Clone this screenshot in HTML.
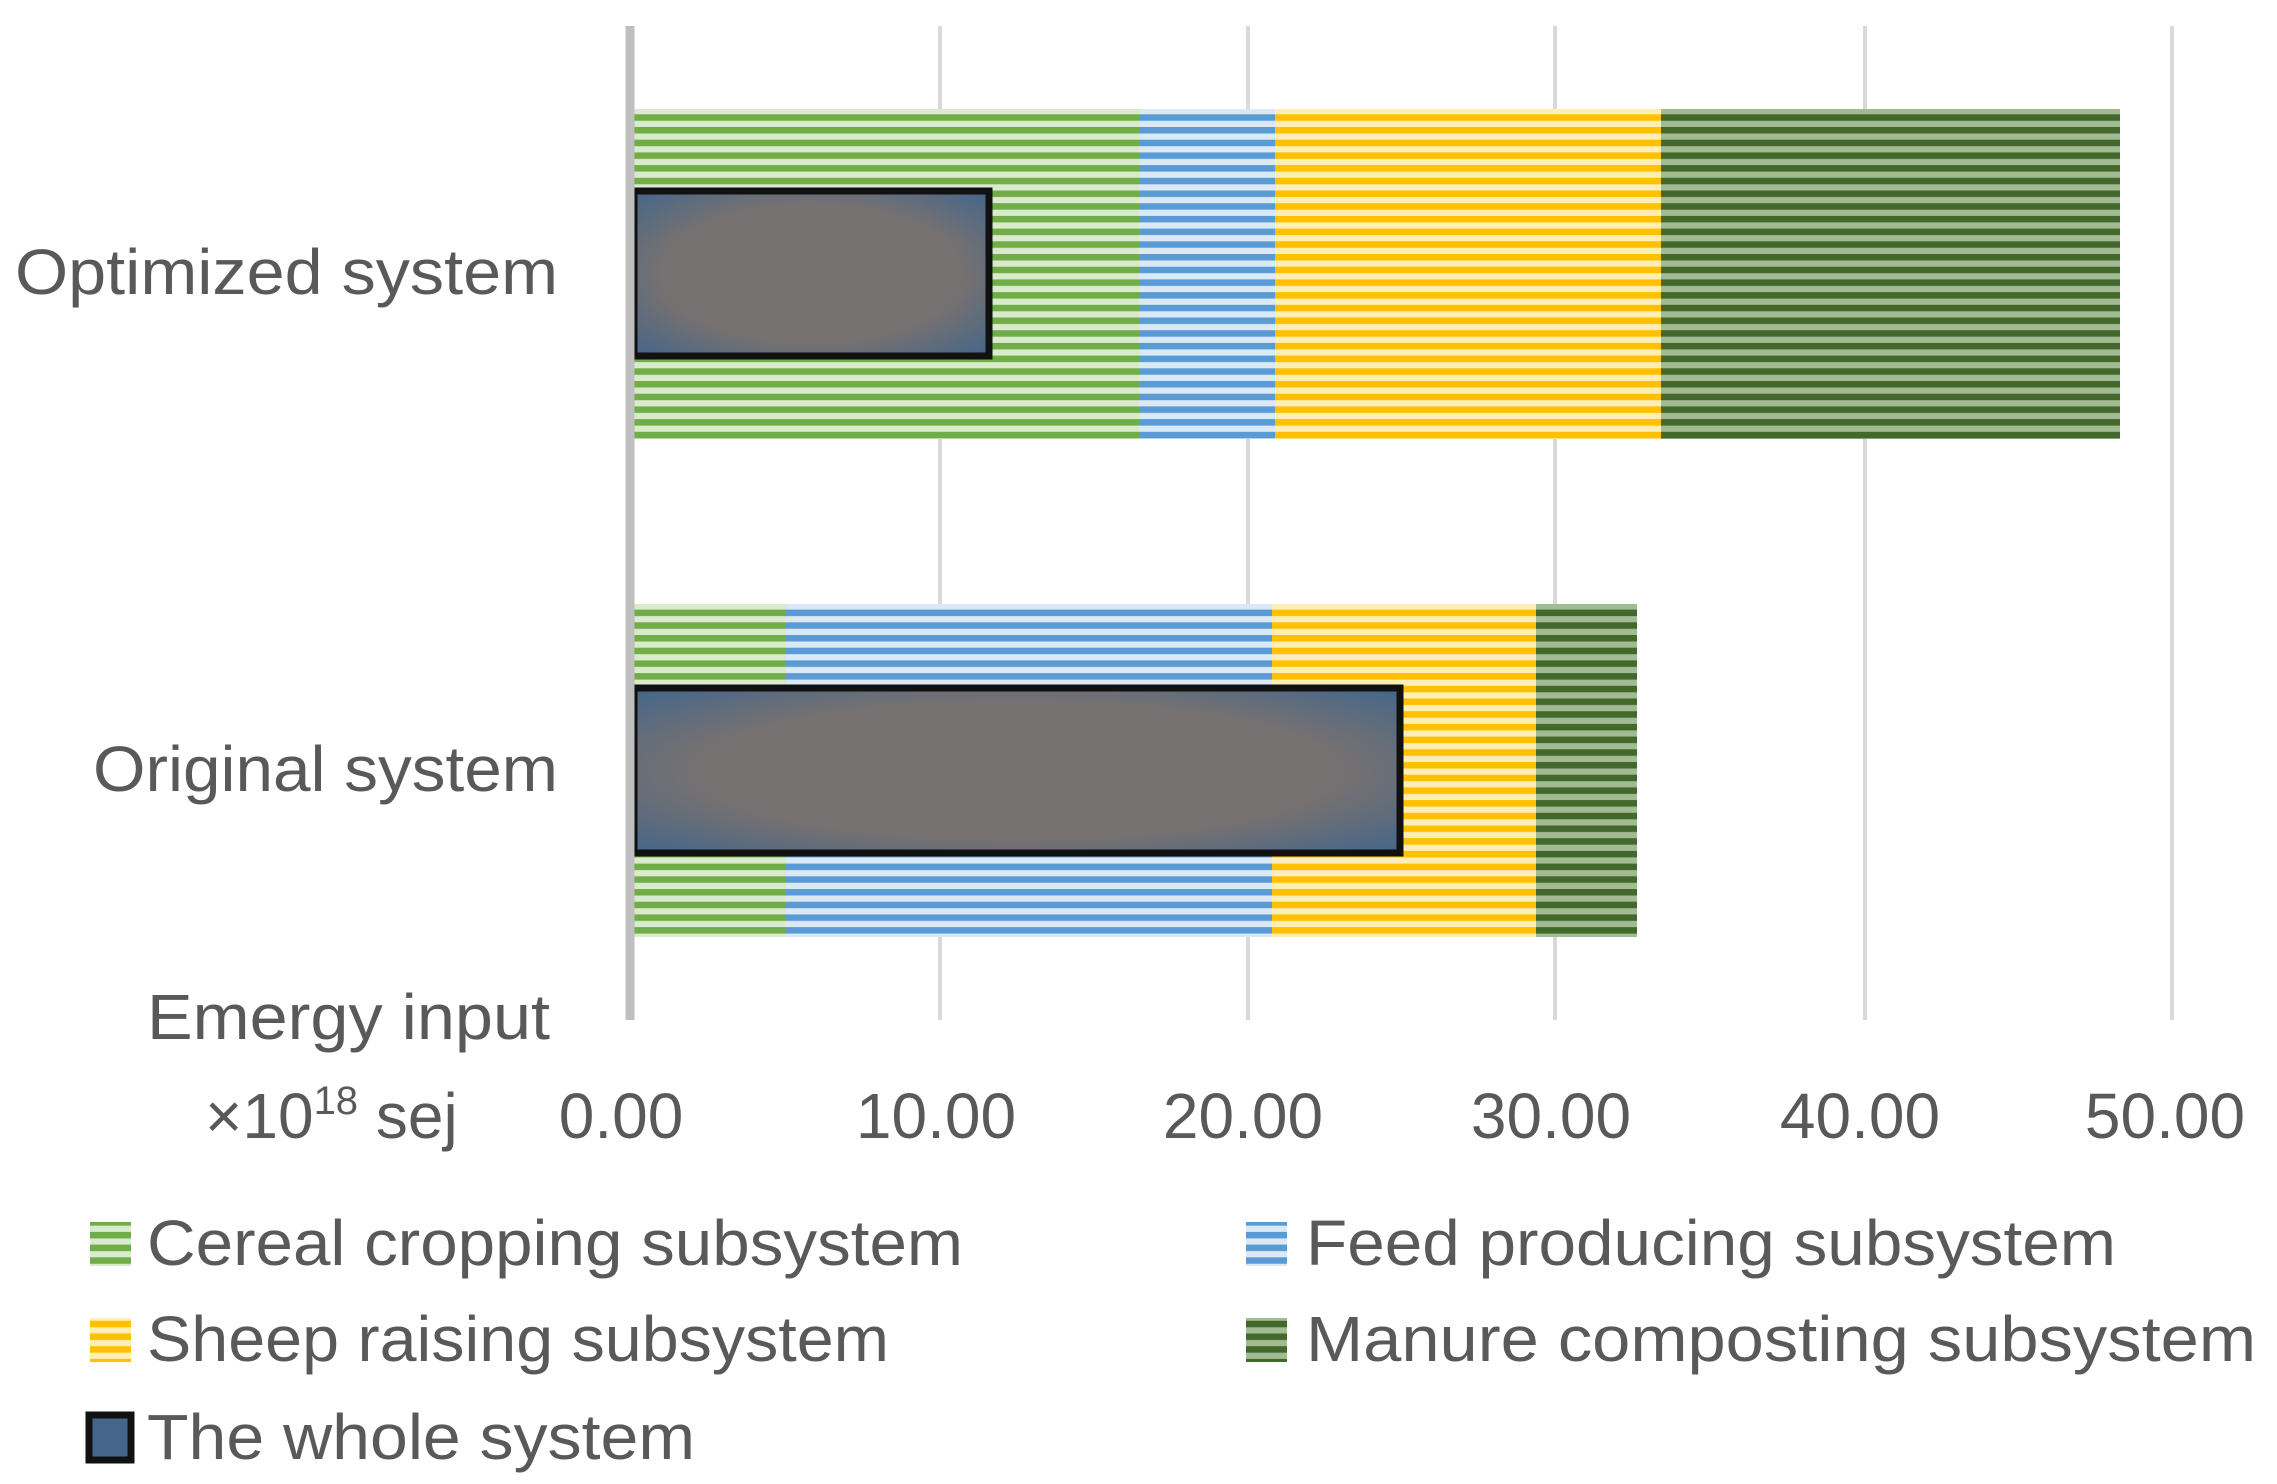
<!DOCTYPE html>
<html><head><style>body{margin:0;background:#fff}svg{display:block}</style></head><body>
<svg width="2277" height="1484" viewBox="0 0 2277 1484" xmlns="http://www.w3.org/2000/svg" font-family="Liberation Sans, sans-serif" fill="#595959">
<defs>
<pattern id="pg" width="20" height="12.7" patternUnits="userSpaceOnUse"><rect width="20" height="12.7" fill="#d9eacd"/><rect width="20" height="6.5" fill="#70ad47"/></pattern>
<pattern id="pb" width="20" height="12.7" patternUnits="userSpaceOnUse"><rect width="20" height="12.7" fill="#dbe9f6"/><rect width="20" height="6.5" fill="#5b9bd5"/></pattern>
<pattern id="py" width="20" height="12.7" patternUnits="userSpaceOnUse"><rect width="20" height="12.7" fill="#ffeeb5"/><rect width="20" height="6.5" fill="#ffc000"/></pattern>
<pattern id="pd" width="20" height="12.7" patternUnits="userSpaceOnUse"><rect width="20" height="12.7" fill="#a3bb93"/><rect width="20" height="6.5" fill="#43682b"/></pattern>
<radialGradient id="gw" cx="0.5" cy="0.5" r="0.7"><stop offset="0.6" stop-color="#767171"/><stop offset="1" stop-color="#44668a"/></radialGradient>
</defs>
<g stroke="#d9d9d9" stroke-width="4">
<line x1="940" y1="26" x2="940" y2="1020"/><line x1="1248" y1="26" x2="1248" y2="1020"/><line x1="1555" y1="26" x2="1555" y2="1020"/><line x1="1865" y1="26" x2="1865" y2="1020"/><line x1="2172" y1="26" x2="2172" y2="1020"/>
</g>
<rect x="634" y="109" width="505" height="330" fill="url(#pg)"/>
<rect x="1139" y="109" width="136" height="330" fill="url(#pb)"/>
<rect x="1275" y="109" width="386" height="330" fill="url(#py)"/>
<rect x="1661" y="109" width="459" height="330" fill="url(#pd)"/>
<rect x="634" y="191" width="355" height="165" fill="url(#gw)" stroke="#111" stroke-width="7"/>
<rect x="634" y="604" width="152" height="333" fill="url(#pg)"/>
<rect x="786" y="604" width="486" height="333" fill="url(#pb)"/>
<rect x="1272" y="604" width="264" height="333" fill="url(#py)"/>
<rect x="1536" y="604" width="101" height="333" fill="url(#pd)"/>
<rect x="634" y="688" width="766" height="165" fill="url(#gw)" stroke="#111" stroke-width="7"/>
<line x1="630" y1="26" x2="630" y2="1020" stroke="#bfbfbf" stroke-width="9"/>
<g font-size="64">
<text x="558" y="294" text-anchor="end" textLength="543" lengthAdjust="spacingAndGlyphs">Optimized system</text>
<text x="558" y="791" text-anchor="end" textLength="465" lengthAdjust="spacingAndGlyphs">Original system</text>
<text x="147" y="1039" textLength="403" lengthAdjust="spacingAndGlyphs">Emergy input</text>
<text x="205" y="1138">×10<tspan font-size="40" dy="-24">18</tspan><tspan dy="24"> sej</tspan></text>
<text x="621" y="1138" text-anchor="middle">0.00</text>
<text x="936" y="1138" text-anchor="middle">10.00</text>
<text x="1243" y="1138" text-anchor="middle">20.00</text>
<text x="1551" y="1138" text-anchor="middle">30.00</text>
<text x="1860" y="1138" text-anchor="middle">40.00</text>
<text x="2165" y="1138" text-anchor="middle">50.00</text>
<text x="147" y="1265" textLength="816" lengthAdjust="spacingAndGlyphs">Cereal cropping subsystem</text>
<text x="1306" y="1265" textLength="810" lengthAdjust="spacingAndGlyphs">Feed producing subsystem</text>
<text x="147" y="1361" textLength="742" lengthAdjust="spacingAndGlyphs">Sheep raising subsystem</text>
<text x="1306" y="1361" textLength="950" lengthAdjust="spacingAndGlyphs">Manure composting subsystem</text>
<text x="147" y="1459" textLength="548" lengthAdjust="spacingAndGlyphs">The whole system</text>
</g>
<rect x="90" y="1222" width="41" height="44" fill="url(#pg)"/>
<rect x="1246" y="1222" width="41" height="44" fill="url(#pb)"/>
<rect x="90" y="1318" width="41" height="44" fill="url(#py)"/>
<rect x="1246" y="1318" width="41" height="44" fill="url(#pd)"/>
<rect x="89" y="1415" width="42" height="45" fill="#44668a" stroke="#111" stroke-width="7"/>
</svg>
</body></html>
